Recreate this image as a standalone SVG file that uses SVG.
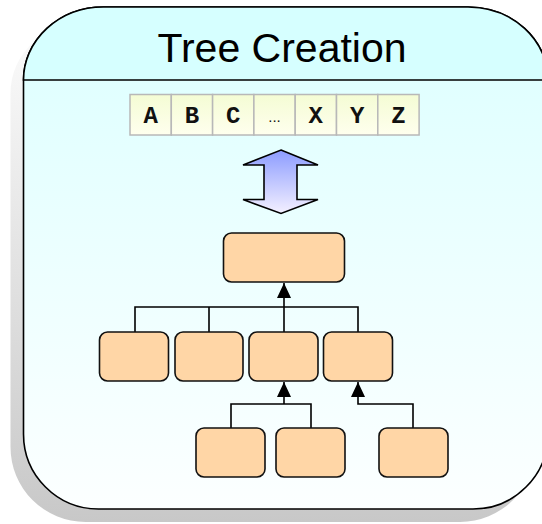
<svg xmlns="http://www.w3.org/2000/svg" width="542" height="524" viewBox="0 0 542 524">
  <defs>
    <linearGradient id="shadowGrad" x1="0" y1="0" x2="0" y2="1">
      <stop offset="0" stop-color="#fcfcfc"/>
      <stop offset="1" stop-color="#c8c8c8"/>
    </linearGradient>
    <linearGradient id="bodyGrad" x1="0" y1="0" x2="0" y2="1">
      <stop offset="0" stop-color="#dcffff"/>
      <stop offset="1" stop-color="#fcffff"/>
    </linearGradient>
    <linearGradient id="cellGrad" x1="0" y1="0" x2="0" y2="1">
      <stop offset="0" stop-color="#f4fcd4"/>
      <stop offset="1" stop-color="#ffffee"/>
    </linearGradient>
    <linearGradient id="arrowGrad" x1="0" y1="0" x2="0" y2="1">
      <stop offset="0" stop-color="#8c9cff"/>
      <stop offset="1" stop-color="#f4f0ff"/>
    </linearGradient>
    <marker id="head" viewBox="0 0 15 14" refX="15" refY="7" markerWidth="15" markerHeight="14" orient="auto" markerUnits="userSpaceOnUse">
      <path d="M0,0 L15,7 L0,14 Z" fill="#000"/>
    </marker>
  </defs>
  <style>
    .frame { stroke: #000; stroke-width: 1.6; }
    .node rect { fill: #ffd6a6; stroke: #111; stroke-width: 1.6; }
    .cell { fill: url(#cellGrad); stroke: #b8b8b8; stroke-width: 1.5; }
    .letter { font-family: "Liberation Mono", "Courier New", monospace; font-weight: bold; font-size: 24px; fill: #111; text-anchor: middle; }
    .edge { fill: none; stroke: #000; stroke-width: 1.6; }
  </style>

  <!-- drop shadow of the panel -->
  <path d="M10.5,93 A80,73 0 0 1 90.5,20 H455 A80,73 0 0 1 535,93 V447 A75,75 0 0 1 460,522 H85.5 A75,75 0 0 1 10.5,447 Z" fill="url(#shadowGrad)"/>

  <!-- panel body and header -->
  <g id="panel">
    <path class="frame" d="M23.5,80 A80,73 0 0 1 103.5,7 H468 A80,73 0 0 1 548,80 V434 A75,75 0 0 1 473,509 H98.5 A75,75 0 0 1 23.5,434 Z" fill="url(#bodyGrad)"/>
    <path class="frame" d="M23.5,80 A80,73 0 0 1 103.5,7 H468 A80,73 0 0 1 548,80 Z" fill="#d6ffff"/>
    <text x="282" y="62" font-family="Liberation Sans, Arial, sans-serif" font-size="41" fill="#000" text-anchor="middle">Tree Creation</text>
  </g>

  <!-- alphabet strip -->
  <g id="alphabet">
    <rect class="cell" x="130" y="94.5" width="41.3" height="40.5"/>
    <rect class="cell" x="171.3" y="94.5" width="41.3" height="40.5"/>
    <rect class="cell" x="212.6" y="94.5" width="41.3" height="40.5"/>
    <rect class="cell" x="253.9" y="94.5" width="41.3" height="40.5"/>
    <rect class="cell" x="295.2" y="94.5" width="41.3" height="40.5"/>
    <rect class="cell" x="336.5" y="94.5" width="41.3" height="40.5"/>
    <rect class="cell" x="377.8" y="94.5" width="41.3" height="40.5"/>
    <text class="letter" x="150.6" y="122.5">A</text>
    <text class="letter" x="191.9" y="122.5">B</text>
    <text class="letter" x="233.2" y="122.5">C</text>
    <text x="274.5" y="122" font-family="Liberation Sans, Arial, sans-serif" font-size="15" fill="#111" text-anchor="middle">...</text>
    <text class="letter" x="315.8" y="122.5">X</text>
    <text class="letter" x="357.1" y="122.5">Y</text>
    <text class="letter" x="398.4" y="122.5">Z</text>
  </g>

  <!-- two-way block arrow -->
  <g id="exchange">
    <path d="M281,150 L318,165 H297 V199.5 H318 L281,213.5 L243,199.5 H264 V165 H243 Z" fill="url(#arrowGrad)" stroke="#000" stroke-width="1.6" stroke-linejoin="miter"/>
  </g>

  <!-- connectors -->
  <g id="edges">
    <path class="edge" d="M135,332 V307 H358 V332 M209,307 V332 M284,332 V307"/>
    <path class="edge" d="M284,307 V283" stroke-width="2.6" marker-end="url(#head)"/>
    <path class="edge" d="M231,428 V404 H311 V428"/>
    <path class="edge" d="M284,404 V382" stroke-width="2.6" marker-end="url(#head)"/>
    <path class="edge" d="M413,428 V404 H358 V382" marker-end="url(#head)"/>
  </g>

  <!-- tree nodes -->
  <g id="root" class="node"><rect x="223.5" y="233" width="121" height="49" rx="8"/></g>
  <g id="n1" class="node"><rect x="99.5" y="332" width="69" height="49" rx="8"/></g>
  <g id="n2" class="node"><rect x="175" y="332" width="68" height="49" rx="8"/></g>
  <g id="n3" class="node"><rect x="249" y="332" width="69" height="49" rx="8"/></g>
  <g id="n4" class="node"><rect x="323.5" y="332" width="69" height="49" rx="8"/></g>
  <g id="n5" class="node"><rect x="196" y="428" width="69" height="49" rx="8"/></g>
  <g id="n6" class="node"><rect x="276" y="428" width="69" height="49" rx="8"/></g>
  <g id="n7" class="node"><rect x="379" y="428" width="69" height="49" rx="8"/></g>
</svg>
